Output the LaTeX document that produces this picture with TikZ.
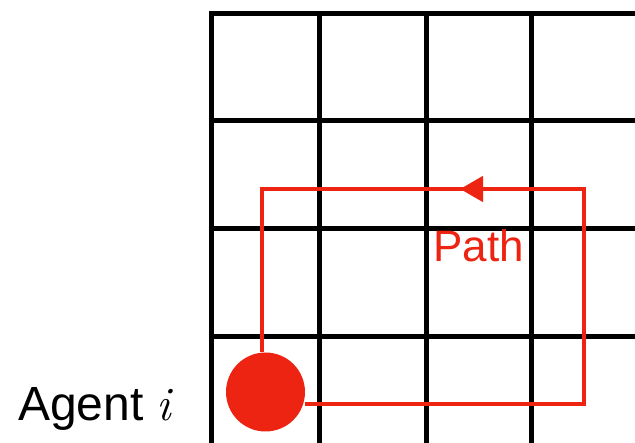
\documentclass[tikz,border=0pt]{standalone}
\usepackage{fontspec}
\setmainfont{Liberation Sans}
\newfontfamily\lmroman{Latin Modern Roman}
\usetikzlibrary{arrows.meta}
\definecolor{pathred}{RGB}{238,36,18}
\begin{document}
\begin{tikzpicture}[x=1pt,y=-1pt,
  gridline/.style={line width=5pt,black},
  redline/.style={line width=4.5pt,pathred},
  agentdot/.style={circle,fill=pathred,minimum size=79pt,inner sep=0pt},
  redlabel/.style={text=pathred,font=\fontsize{44}{44}\selectfont,inner sep=0pt},
  blacklabel/.style={text=black,font=\fontsize{48}{48}\selectfont,inner sep=0pt}]
\useasboundingbox (0,0) rectangle (635,443);
\begin{scope}
\clip (0,0) rectangle (635,443);
\foreach \y in {14,121,229,337} \draw[gridline] (208.5,\y) -- (640,\y);
\foreach \x in {211,319,426,531} \draw[gridline] (\x,11.5) -- (\x,450);
\end{scope}
\node[agentdot] (agent) at (265.5,392) {};
\coordinate (br) at (584,404);
\coordinate (tr) at (584,189);
\coordinate (tl) at (262,189);
\coordinate (atip) at (460,189);
\draw[redline,line join=miter] (agent.east |- br) -- (br) -- (tr) -- (tl) -- (tl |- agent.north);
\draw[redline,-{Triangle[length=23pt,width=25pt]}] (tr) -- (atip);
\node[redlabel,anchor=base west] (pathlbl) at (433,262) {Path};
\node[blacklabel,anchor=base west] (agentlbl) at (18,421) {Agent {\lmroman\itshape i}};
\end{tikzpicture}
\end{document}
